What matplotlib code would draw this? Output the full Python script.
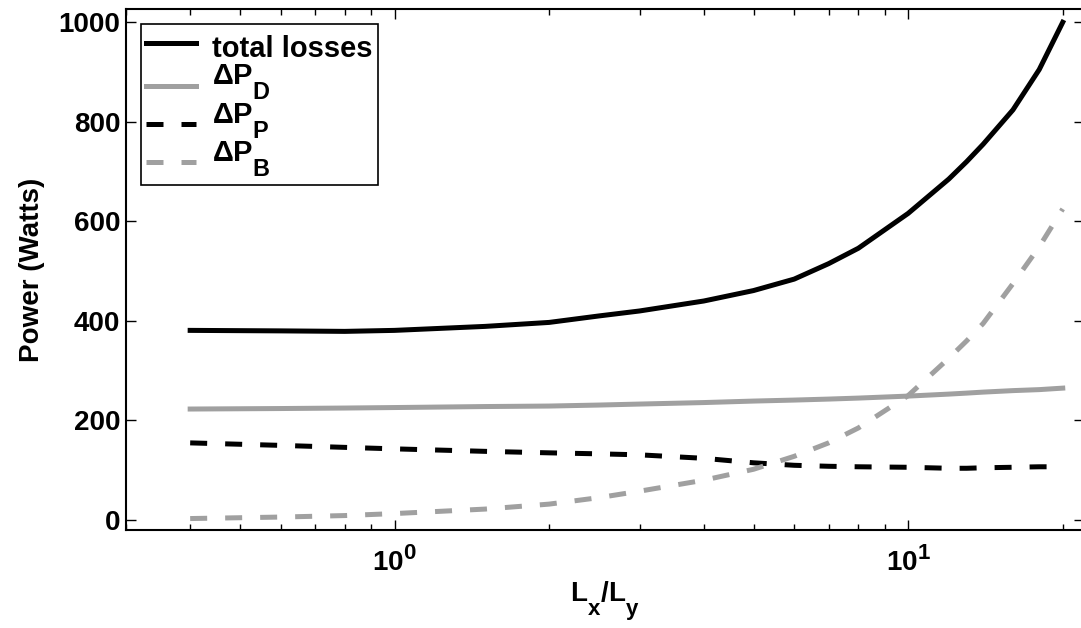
import matplotlib
matplotlib.use("Agg")
import matplotlib.pyplot as plt

try:
    import matplotlib._mathtext as _mt
    _mt.SHRINK_FACTOR = 0.8
    _mt.FontConstantsBase.sub1 = 0.95
    _mt.FontConstantsBase.sup1 = 0.75
except Exception:
    pass

plt.rcParams['font.family'] = ['Liberation Sans', 'DejaVu Sans']
plt.rcParams['font.weight'] = 'bold'
plt.rcParams['mathtext.fontset'] = 'custom'
plt.rcParams['mathtext.rm'] = 'Liberation Sans:bold'
plt.rcParams['mathtext.it'] = 'Liberation Sans:bold'
plt.rcParams['mathtext.bf'] = 'Liberation Sans:bold'
plt.rcParams['mathtext.sf'] = 'Liberation Sans:bold'
plt.rcParams['mathtext.default'] = 'rm'

# ---- data ----
ratio = [0.4, 0.6, 0.8, 1, 1.5, 2, 2.5, 3, 4, 5, 6, 7, 8, 10, 12, 13, 14, 16, 18, 20]
total_losses = [381, 380, 379, 381, 389, 397, 410, 420, 440, 461, 484, 515, 546, 616,
                685, 720, 755, 824, 905, 1000]
dP_D = [223, 224, 225, 226, 228, 229, 231, 233, 236, 239, 241, 243, 245, 249,
        253, 255, 257, 260, 262, 265]
dP_P = [155, 150, 146, 143, 138, 135, 133, 131, 124, 115, 110, 108, 107, 106,
        104, 104, 105, 106, 107, 107]
dP_B = [3, 6, 9, 13, 22, 32, 45, 58, 80, 102, 128, 155, 185, 250,
        325, 360, 395, 475, 549, 625]

labels = ['total losses', r'$\Delta P_{D}$', r'$\Delta P_{P}$', r'$\Delta P_{B}$']
xtick_vals = [1, 10]
xtick_labels = [r'$10^{0}$', r'$10^{1}$']
ytick_vals = [0, 200, 400, 600, 800, 1000]

fig = plt.figure(figsize=(10.81, 6.28), dpi=100)
ax = fig.add_axes([126 / 1081, 1 - 530 / 628, (1084 - 126) / 1081, (530 - 9.3) / 628])

gray = '#a0a0a0'
lw = 3.6
dash = (0, (3.4, 3.6))
ax.plot(ratio, total_losses, color='black', lw=lw, label=labels[0])
ax.plot(ratio, dP_D, color=gray, lw=lw, label=labels[1])
ax.plot(ratio, dP_P, color='black', lw=lw, linestyle=dash, label=labels[2])
ax.plot(ratio, dP_B, color=gray, lw=lw, linestyle=dash, label=labels[3])

ax.set_xscale('log')
ax.set_xlim(0.3, 22)
ax.set_ylim(-20, 1026)
ax.set_xticks(xtick_vals)
ax.set_xticklabels(xtick_labels)
ax.set_yticks(ytick_vals)
ax.set_yticklabels([str(v) for v in ytick_vals])

for s in ax.spines.values():
    s.set_linewidth(1.5)

ax.tick_params(axis='both', which='major', direction='in', top=True, right=True,
               length=7, width=1.0, labelsize=20)
ax.tick_params(axis='x', which='major', pad=12)
ax.tick_params(axis='y', which='major', pad=4)
ax.tick_params(axis='x', which='minor', direction='in', top=True, length=4, width=1.0)

ax.set_xlabel(r'$L_{x}/L_{y}$', fontsize=20, fontweight='bold', labelpad=2)
ax.set_ylabel('Power (Watts)', fontsize=20, fontweight='bold', labelpad=10)

leg = ax.legend(loc='upper left', fontsize=21, frameon=True, fancybox=False,
                edgecolor='black', framealpha=1, handlelength=1.7,
                handleheight=1.44, handletextpad=0.55, borderpad=0.2,
                labelspacing=-0.2, borderaxespad=0.5)
leg.get_frame().set_linewidth(1.2)
# lower the sample lines of the subscripted entries to the row centres
for ln in leg.get_lines()[1:]:
    ln.set_ydata([y - 10.0 for y in ln.get_ydata()])

fig.savefig('out.png', dpi=100)
